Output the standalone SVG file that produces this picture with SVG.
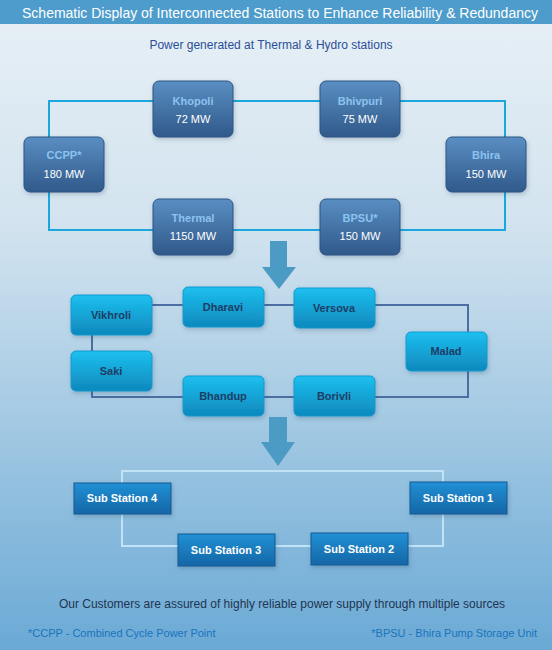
<svg xmlns="http://www.w3.org/2000/svg" width="552" height="650" viewBox="0 0 552 650">
<defs>
<linearGradient id="bg" x1="0" y1="0" x2="0" y2="1">
<stop offset="0" stop-color="#e8f0f6"/>
<stop offset="0.35" stop-color="#d2e3ef"/>
<stop offset="0.65" stop-color="#a3c9e3"/>
<stop offset="1" stop-color="#6aa9d5"/>
</linearGradient>
<linearGradient id="gTop" x1="0" y1="0" x2="0" y2="1">
<stop offset="0" stop-color="#5a8ec3"/>
<stop offset="1" stop-color="#30598a"/>
</linearGradient>
<linearGradient id="gMid" x1="0" y1="0" x2="0" y2="1">
<stop offset="0" stop-color="#1cc0ef"/>
<stop offset="1" stop-color="#0f88bd"/>
</linearGradient>
<linearGradient id="gSub" x1="0" y1="0" x2="0" y2="1">
<stop offset="0" stop-color="#2190d5"/>
<stop offset="1" stop-color="#1566a6"/>
</linearGradient>
<filter id="sh" x="-20%" y="-20%" width="140%" height="150%">
<feDropShadow dx="1" dy="2" stdDeviation="2" flood-color="#1a3a5a" flood-opacity="0.25"/>
</filter>
</defs>
<style>
text{font-family:"Liberation Sans",Arial,sans-serif;text-anchor:middle}
.top rect{fill:url(#gTop);stroke:#2d5584;stroke-width:1;filter:url(#sh)}
.top .n{fill:#8cc3ee;font-size:11px;font-weight:bold}
.top .v{fill:#ffffff;font-size:11px}
.mid rect{fill:url(#gMid);stroke:#1499cf;stroke-width:1;filter:url(#sh)}
.mid text{fill:#1d3e66;font-size:11px;font-weight:bold}
.sub rect{fill:url(#gSub);stroke:#125a93;stroke-width:1;filter:url(#sh)}
.sub text{fill:#ffffff;font-size:11px;font-weight:bold}
.arrow{fill:#4b9bc5}
</style>
<rect x="0" y="0" width="552" height="650" fill="url(#bg)"/>
<rect x="0" y="0" width="552" height="24" fill="#4d9ccc"/>
<text x="280" y="18" fill="#ffffff" style="font-size:14px">Schematic Display of Interconnected Stations to Enhance Reliability &amp; Redundancy</text>
<text x="271" y="49" fill="#2b4f98" style="font-size:12px">Power generated at Thermal &amp; Hydro stations</text>

<g id="connectors">
<rect x="49" y="101" width="456" height="129" fill="none" stroke="#1ba7de" stroke-width="2"/>
<path d="M152 305 H468 V397 H92 V305" fill="none" stroke="#4a6fa0" stroke-width="2"/>
<rect x="122" y="471" width="321" height="75" fill="none" stroke="#c2e2f7" stroke-width="2"/>
<path class="arrow" d="M270 241 H287 V267 H296 L279 289 L262 267 H270 Z"/>
<path class="arrow" d="M269 417 H287 V442 H295 L278 466 L261 442 H269 Z"/>
</g>

<g id="khopoli" class="top"><rect x="153" y="81" width="80" height="56" rx="6"/><text class="n" x="193" y="105">Khopoli</text><text class="v" x="193" y="123">72 MW</text></g>
<g id="bhivpuri" class="top"><rect x="320" y="81" width="80" height="56" rx="6"/><text class="n" x="360" y="105">Bhivpuri</text><text class="v" x="360" y="123">75 MW</text></g>
<g id="ccpp" class="top"><rect x="24" y="137" width="80" height="55" rx="6"/><text class="n" x="64" y="159">CCPP*</text><text class="v" x="64" y="178">180 MW</text></g>
<g id="bhira" class="top"><rect x="446" y="137" width="80" height="55" rx="6"/><text class="n" x="486" y="159">Bhira</text><text class="v" x="486" y="178">150 MW</text></g>
<g id="thermal" class="top"><rect x="153" y="199" width="80" height="56" rx="6"/><text class="n" x="193" y="222">Thermal</text><text class="v" x="193" y="240">1150 MW</text></g>
<g id="bpsu" class="top"><rect x="320" y="199" width="80" height="56" rx="6"/><text class="n" x="360" y="222">BPSU*</text><text class="v" x="360" y="240">150 MW</text></g>

<g id="vikhroli" class="mid"><rect x="71" y="295" width="81" height="40" rx="5"/><text x="111" y="319">Vikhroli</text></g>
<g id="dharavi" class="mid"><rect x="183" y="287" width="81" height="40" rx="5"/><text x="223" y="311">Dharavi</text></g>
<g id="versova" class="mid"><rect x="294" y="288" width="81" height="40" rx="5"/><text x="334" y="312">Versova</text></g>
<g id="malad" class="mid"><rect x="406" y="332" width="81" height="39" rx="5"/><text x="446" y="355">Malad</text></g>
<g id="saki" class="mid"><rect x="71" y="351" width="81" height="40" rx="5"/><text x="111" y="375">Saki</text></g>
<g id="bhandup" class="mid"><rect x="183" y="376" width="81" height="40" rx="5"/><text x="223" y="400">Bhandup</text></g>
<g id="borivli" class="mid"><rect x="294" y="376" width="81" height="40" rx="5"/><text x="334" y="400">Borivli</text></g>

<g id="sub4" class="sub"><rect x="74" y="483" width="97" height="31"/><text x="122" y="502">Sub Station 4</text></g>
<g id="sub1" class="sub"><rect x="410" y="482" width="97" height="32"/><text x="458" y="502">Sub Station 1</text></g>
<g id="sub3" class="sub"><rect x="178" y="534" width="97" height="32"/><text x="226" y="554">Sub Station 3</text></g>
<g id="sub2" class="sub"><rect x="311" y="533" width="97" height="32"/><text x="359" y="553">Sub Station 2</text></g>

<text x="282" y="608" fill="#1f3450" style="font-size:12px">Our Customers are assured of highly reliable power supply through multiple sources</text>
<text x="28" y="637" fill="#1a74bd" style="font-size:11px;text-anchor:start">*CCPP - Combined Cycle Power Point</text>
<text x="537" y="637" fill="#1a74bd" style="font-size:11px;text-anchor:end">*BPSU - Bhira Pump Storage Unit</text>
</svg>
